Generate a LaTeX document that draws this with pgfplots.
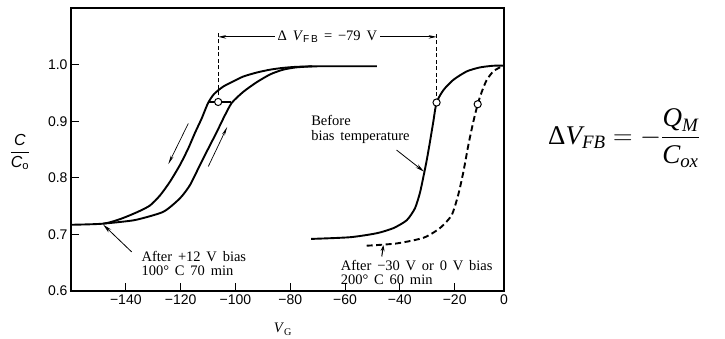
\RequirePackage{fix-cm}
\documentclass[border=0pt]{standalone}
\usepackage{pgfplots}
\pgfplotsset{compat=1.18}
\usepackage{amsmath}
\usepackage{fontspec}
\setmainfont{Liberation Serif}[WordSpace=1.6]
\setsansfont{Liberation Sans}
\usetikzlibrary{arrows.meta}

\begin{document}
\begin{tikzpicture}
\useasboundingbox (0,0) rectangle (725pt,339pt);
\begin{axis}[
  at={(71pt,48pt)}, anchor=south west,
  scale only axis, width=433pt, height=283pt,
  xmin=-160, xmax=-2, ymin=0.6, ymax=1.1,
  axis line style={line width=1.2pt},
  xtick={-140,-120,-100,-80,-60,-40,-20,-2},
  xticklabels={−140,−120,−100,−80,−60,−40,−20,0},
  ytick={0.6,0.7,0.8,0.9,1.0},
  yticklabels={0.6,0.7,0.8,0.9,1.0},
  xtick pos=bottom, ytick pos=left, tick align=inside,
  major tick length=8pt,
  tick style={line width=1pt, black},
  ticklabel style={font=\sffamily\fontsize{14}{14}\selectfont},
  clip=false,
]
% left hysteresis: upper (down sweep)
\addplot[line width=1.9pt, smooth, tension=0.4] coordinates {
(-160,0.717) (-148.2,0.719) (-142.1,0.727) (-136.0,0.739) (-131.2,0.751)
(-127.5,0.769) (-123.9,0.793) (-120.2,0.823) (-117.2,0.852) (-114.8,0.879)
(-112.3,0.905) (-110.0,0.932) (-107.8,0.948) (-104.5,0.961) (-100.5,0.971) (-97.1,0.979)
(-92.2,0.986) (-87.4,0.991) (-83,0.994) (-78,0.996) (-70,0.997) (-48.4,0.997)};
% left hysteresis: lower (up sweep)
\addplot[line width=1.9pt, smooth, tension=0.4] coordinates {
(-148.2,0.719) (-142,0.722) (-136.0,0.726) (-126.3,0.740) (-120.2,0.764)
(-116.6,0.787) (-113.5,0.817) (-110.5,0.846) (-106.8,0.881) (-104.4,0.905)
(-101.4,0.932) (-97.1,0.952) (-92.2,0.969) (-87.2,0.983) (-82.6,0.991)
(-78,0.995) (-72,0.997)};
% before bias temperature
\addplot[line width=1.9pt, smooth, tension=0.4] coordinates {
(-72.4,0.692) (-58.2,0.695) (-48.5,0.702) (-42.4,0.711) (-37.5,0.725)
(-34.5,0.746) (-32.7,0.773) (-31.4,0.802) (-30.2,0.831) (-29.0,0.864)
(-27.8,0.899) (-26.6,0.933) (-24.1,0.955) (-20.5,0.973) (-15.6,0.988)
(-10.8,0.995) (-5.9,0.998) (-2,0.998)};
% after -30 V or 0 V bias
\addplot[line width=1.9pt, smooth, tension=0.4, dash pattern=on 6pt off 3.5pt] coordinates {
(-52.1,0.680) (-41.2,0.684) (-31.4,0.694) (-25.4,0.711) (-21.1,0.734)
(-18.7,0.770) (-16.8,0.811) (-15.0,0.858) (-13.2,0.899) (-11.6,0.930)
(-10.1,0.952) (-8.3,0.973) (-5.9,0.988) (-3.5,0.995) (-2,0.997)};
% horizontal connector
\addplot[line width=1.2pt] coordinates {(-109.9,0.934) (-101.8,0.934)};
% dashed verticals
\addplot[line width=0.9pt, dash pattern=on 4pt off 2.5pt] coordinates {(-106.3,0.934) (-106.3,1.058)};
\addplot[line width=0.9pt, dash pattern=on 4pt off 2.5pt] coordinates {(-26.6,0.933) (-26.6,1.058)};
% circles
\addplot[only marks, mark=*, mark size=3.6pt, mark options={fill=white, draw=black, line width=1pt}]
  coordinates {(-106.3,0.934) (-26.6,0.933) (-11.6,0.930)};
% delta V arrow
\draw[{Stealth[length=8pt,width=3.5pt]}-{Stealth[length=8pt,width=3.5pt]}, line width=0.9pt]
  (axis cs:-106.3,1.049) -- (axis cs:-26.6,1.049);
\node[fill=white, inner sep=3pt, font=\fontsize{14.5}{14}\selectfont]
  at (axis cs:-66.45,1.049) {Δ \textit{V}\textsubscript{\textsf{F\,B}} = −79 V};
% sweep direction arrows
\draw[-{Stealth[length=9pt,width=3pt]}, line width=0.7pt] (axis cs:-117.2,0.896) -- (axis cs:-124.5,0.824);
\draw[-{Stealth[length=9pt,width=3pt]}, line width=0.7pt] (axis cs:-109.9,0.820) -- (axis cs:-103.0,0.890);
% annotations
\draw[-{Stealth[length=9pt,width=4pt]}, line width=0.8pt] (axis cs:-137.85,0.669) -- (axis cs:-148.2,0.717);
\node[anchor=west, align=left, font=\fontsize{14.5}{14}\selectfont, inner sep=0pt]
  at (axis cs:-134.3,0.648) {After +12 V bias\\100° C 70 min};
\draw[-{Stealth[length=9pt,width=4pt]}, line width=0.8pt] (axis cs:-41.2,0.849) -- (axis cs:-31.2,0.811);
\node[anchor=west, align=left, font=\fontsize{14.5}{15}\selectfont, inner sep=0pt]
  at (axis cs:-72.4,0.886) {Before\\bias temperature};
\draw[-{Stealth[length=6pt,width=4pt]}, line width=1pt] (axis cs:-46.6,0.661) -- (axis cs:-46.0,0.681);
\node[anchor=west, align=left, font=\fontsize{14.5}{14}\selectfont, inner sep=0pt]
  at (axis cs:-61.6,0.6336) {After −30 V or 0 V bias\\200° C 60 min};
\end{axis}
% axis labels
\node[anchor=base, font=\fontsize{14.5}{14}\selectfont] at (283pt,6pt) {\textit{V}\textsubscript{G}};
\node[font=\fontsize{16}{18}\selectfont] at (20pt,187pt)
  {$\dfrac{\textsf{\textit{C}}}{\textsf{\textit{C}}_{\textsf{o}}}$};
% equation
\node[anchor=west, font=\fontsize{27}{30}\selectfont, inner sep=0pt] at (548pt,201pt)
  {$\text{Δ}\textit{V}_{\textit{FB}} = -\dfrac{\textit{Q}_{\textit{M}}}{\textit{C}_{\textit{ox}}}$};
\end{tikzpicture}
\end{document}
